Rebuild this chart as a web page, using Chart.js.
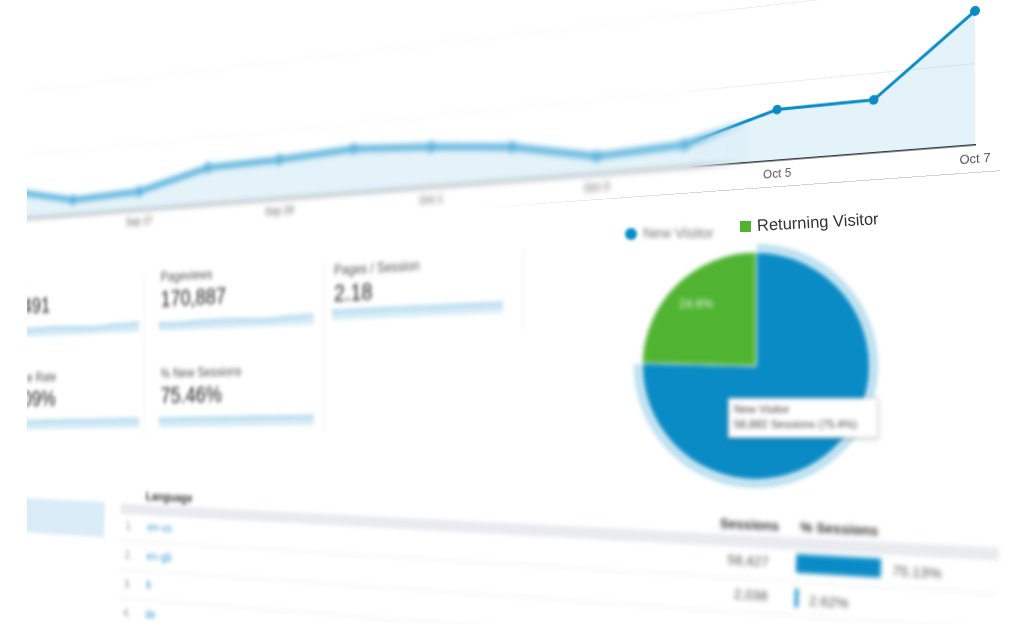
<!DOCTYPE html>
<html>
<head>
<meta charset="utf-8">
<script src="https://cdn.jsdelivr.net/npm/chart.js@4.4.1/dist/chart.umd.min.js"></script>
<style>
html,body{margin:0;padding:0;background:#fff;width:1024px;height:644px;overflow:hidden;font-family:"Liberation Sans",Arial,sans-serif;}
#frame{position:absolute;left:27px;top:0;width:997px;height:624px;overflow:hidden;background:#fff;}
#plane{position:absolute;left:-27px;top:0;width:1024px;height:644px;transform-origin:975px 481px;
  transform:matrix3d(1,0,0,-0.000232, 0,1,0,0, 0,0,1,0, 0,0,0,1);}
#flat{position:absolute;left:-27px;top:0;width:1024px;height:644px;}
.abs{position:absolute;}
#lineWrap{left:-297px;top:-25px;width:1310px;height:200px;}
#lineWrap > div{position:absolute;left:0;top:0;width:1310px;height:200px;}
#blurLayer{filter:blur(3px);-webkit-mask-image:linear-gradient(to right,#000 975px,transparent 1035px);mask-image:linear-gradient(to right,#000 975px,transparent 1035px);}
#sharpLayer{-webkit-mask-image:linear-gradient(to right,transparent 965px,#000 1025px);mask-image:linear-gradient(to right,transparent 965px,#000 1025px);}
#chartFoot{left:-297px;top:172px;width:1297px;height:1px;background:linear-gradient(to right,rgba(210,210,210,0) 0px,rgba(210,210,210,0) 700px,#d4d4d4 1000px);}
#cards{left:0;top:0;width:1024px;height:644px;filter:blur(2.6px);}
.card{position:absolute;width:238px;height:80px;}
.card .lbl{position:absolute;left:6px;top:-2px;font-size:16px;line-height:20px;color:#555;white-space:nowrap;}
.card .val{position:absolute;left:6px;top:19px;font-size:27px;line-height:32px;color:#222;white-space:nowrap;}
.card .spark{position:absolute;left:0;top:58px;width:232px;height:19px;}
.sep{position:absolute;width:2px;background:#f1f3f5;}
#table{left:-240px;top:501px;width:1500px;height:200px;transform-origin:0 0;transform:rotate(2deg);filter:blur(2.4px);}
#table .t{position:absolute;white-space:nowrap;font-size:15px;line-height:18px;}
#pieWrap{left:628px;top:238px;width:256px;height:256px;filter:blur(2px);}
#tip{left:728px;top:398px;width:138px;height:32px;background:#fff;border:1px solid #d6d6d6;box-shadow:0 1px 4px rgba(0,0,0,0.25);padding:3px 5px;font-size:11px;line-height:15px;color:#444;filter:blur(2.2px);}
</style>
</head>
<body>
<div id="frame">
  <div id="plane">
    <div id="lineWrap" class="abs">
      <div id="blurLayer"><canvas id="lineBlur"></canvas></div>
      <div id="sharpLayer"><canvas id="lineSharp"></canvas></div>
    </div>
    <div id="chartFoot" class="abs"></div>

    <div id="cards" class="abs">
      <div class="sep" style="left:-56px;top:222px;height:200px;"></div>
      <div class="sep" style="left:207px;top:222px;height:200px;"></div>
      <div class="sep" style="left:470px;top:222px;height:90px;"></div>
      <div class="card" style="left:-291px;top:222px;"><div class="lbl">Users</div><div class="val">57,491</div><div class="spark"><canvas id="spUsers"></canvas></div></div>
      <div class="card" style="left:-35px;top:222px;"><div class="lbl">Pageviews</div><div class="val">170,887</div><div class="spark"><canvas id="spPageviews"></canvas></div></div>
      <div class="card" style="left:216px;top:226px;"><div class="lbl">Pages / Session</div><div class="val">2.18</div><div class="spark" style="top:50px;"><canvas id="spPages"></canvas></div></div>
      <div class="card" style="left:-291px;top:341px;"><div class="lbl">Bounce Rate</div><div class="val">46.09%</div><div class="spark"><canvas id="spBounce"></canvas></div></div>
      <div class="card" style="left:-35px;top:341px;"><div class="lbl">% New Sessions</div><div class="val">75.46%</div><div class="spark"><canvas id="spNew"></canvas></div></div>
    </div>

    <div id="table" class="abs">
      <div class="abs" style="left:-30px;top:2px;width:155px;height:44px;background:#d9ecf7;"></div>
      <div class="abs" style="left:150px;top:3px;width:1090px;height:13px;background:#e9ebee;"></div>
      <div class="abs" style="left:150px;top:48px;width:1090px;height:2px;background:#f1f2f4;"></div>
      <div class="abs" style="left:150px;top:84px;width:1090px;height:2px;background:#f1f2f4;"></div>
      <div class="abs" style="left:150px;top:120px;width:1090px;height:2px;background:#f1f2f4;"></div>
      <div class="t" style="left:188px;top:-17px;font-weight:bold;color:#333;">Language</div>
      <div class="t" style="left:920px;top:-17px;width:90px;text-align:right;font-weight:bold;color:#333;">Sessions</div>
      <div class="t" style="left:1033px;top:-17px;font-weight:bold;color:#333;">% Sessions</div>
      <div class="t" style="left:158px;top:21px;color:#999;">1.</div>
      <div class="t" style="left:192px;top:21px;color:#3f9fd6;">en-us</div>
      <div class="t" style="left:158px;top:57px;color:#999;">2.</div>
      <div class="t" style="left:192px;top:57px;color:#3f9fd6;">en-gb</div>
      <div class="t" style="left:158px;top:93px;color:#999;">3.</div>
      <div class="t" style="left:192px;top:93px;color:#3f9fd6;">fr</div>
      <div class="t" style="left:158px;top:129px;color:#999;">4.</div>
      <div class="t" style="left:192px;top:129px;color:#3f9fd6;">de</div>
      <div class="t" style="left:920px;top:21px;width:80px;text-align:right;color:#555;">58,427</div>
      <div class="t" style="left:920px;top:57px;width:80px;text-align:right;color:#555;">2,038</div>
      <div class="abs" style="left:1030px;top:12px;width:210px;height:72px;"><canvas id="barShare"></canvas></div>
    </div>
  </div>

  <div id="flat">
    <div id="pieWrap" class="abs"><canvas id="pie"></canvas></div>
    <div id="tip" class="abs"><div>New Visitor</div><div>58,882 Sessions (75.4%)</div></div>
    <div class="abs" style="left:625px;top:228px;width:12px;height:12px;border-radius:50%;background:#058dc7;filter:blur(1.5px);"></div>
    <div class="abs" style="left:643px;top:225px;font-size:14px;color:#777;filter:blur(2.2px);white-space:nowrap;">New Visitor</div>
    <div class="abs" style="left:740px;top:221px;width:11px;height:11px;background:#50b432;filter:blur(0.5px);"></div>
    <div class="abs" style="left:757px;top:216px;font-size:16.5px;color:#333;white-space:nowrap;transform-origin:0 50%;transform:rotate(-3.2deg);">Returning Visitor</div>
  </div>
</div>

<script>
// ---- data ----
const dates = ['Sep 25','Sep 26','Sep 27','Sep 28','Sep 29','Sep 30','Oct 1','Oct 2','Oct 3','Oct 4','Oct 5','Oct 6','Oct 7'];
const sessions = [1160, 600, 710, 1385, 1445, 1600, 1420, 1170, 615, 755, 1625, 1655, 4085];
const sessionTicks = [0, 2500, 5000];

const visitorTypes = ['New Visitor', 'Returning Visitor'];
const visitorShare = [75.4, 24.6];

const sparkUsers      = [64, 58, 60, 68, 70, 72, 69, 64, 57, 59, 71, 72, 90];
const sparkPageviews  = [66, 60, 62, 70, 72, 74, 71, 66, 59, 61, 73, 74, 92];
const sparkPages      = [76, 75, 76, 77, 76, 77, 76, 75, 76, 76, 77, 76, 77];
const sparkBounce     = [74, 75, 74, 74, 75, 74, 75, 74, 74, 75, 74, 75, 74];
const sparkNew        = [75, 74, 75, 75, 74, 75, 74, 75, 75, 74, 75, 74, 75];

const languages   = ['en-us', 'en-gb'];
const langShare   = [75.13, 2.62];

// ---- line chart ----
const FONT = '"Liberation Sans", Arial, sans-serif';
function lineConfig(lineColor, lineWidth, pointR, axisColor){
  return {
    type:'line',
    data:{labels:dates, datasets:[{data:sessions, borderColor:lineColor, borderWidth:lineWidth,
      backgroundColor:'rgba(5,141,199,0.11)', fill:'origin', tension:0,
      pointRadius:pointR, pointBackgroundColor:lineColor, pointBorderWidth:0}]},
    options:{responsive:true, maintainAspectRatio:false, animation:false, events:[],
      layout:{padding:{top:6,right:38,left:0,bottom:0}},
      plugins:{legend:{display:false}, tooltip:{enabled:false}},
      scales:{
        x:{grid:{display:false, drawTicks:false}, border:{display:true, color:axisColor, width:1.5},
           ticks:{autoSkip:false, maxRotation:0, padding:7, color:'#555', font:{size:13, family:FONT},
                  callback:(v,i)=> (i%2===0 ? dates[i] : '')},
           afterFit:s=>{s.height=30;}},
        y:{min:0, max:5000, afterBuildTicks:s=>{s.ticks = sessionTicks.map(v=>({value:v}));},
           ticks:{display:false}, grid:{color:'#ececec', drawTicks:false}, border:{display:false},
           afterFit:s=>{s.width=0;}}
      }
    }
  };
}
new Chart(document.getElementById('lineBlur'), lineConfig('#5db4de', 7.5, 6.5, '#666'));
new Chart(document.getElementById('lineSharp'), lineConfig('#0a8bc6', 3.2, 5, '#333'));

// ---- sparklines ----
function spark(id, values){
  new Chart(document.getElementById(id), {
    type:'line',
    data:{labels:dates, datasets:[{data:values, borderColor:'#bfe0f1', borderWidth:6,
      backgroundColor:'#d8edf7', fill:'origin', pointRadius:0, tension:0.3}]},
    options:{responsive:true, maintainAspectRatio:false, animation:false, events:[],
      layout:{padding:{top:3}},
      plugins:{legend:{display:false}, tooltip:{enabled:false}},
      scales:{x:{display:false}, y:{display:false, min:0, max:100}}}
  });
}
spark('spUsers', sparkUsers);
spark('spPageviews', sparkPageviews);
spark('spPages', sparkPages);
spark('spBounce', sparkBounce);
spark('spNew', sparkNew);

// ---- table share bars ----
const barLabelPlugin = {id:'barLabels', afterDatasetsDraw(chart){
  const ctx = chart.ctx, meta = chart.getDatasetMeta(0);
  ctx.save(); ctx.fillStyle='#555'; ctx.font='15px '+FONT; ctx.textBaseline='middle';
  meta.data.forEach((bar,i)=>{ const p = bar.getProps(['x','y'], true);
    ctx.fillText(langShare[i].toFixed(2)+'%', p.x+12, p.y+3); });
  ctx.restore();
}};
new Chart(document.getElementById('barShare'), {
  type:'bar',
  data:{labels:languages, datasets:[{data:langShare, backgroundColor:'#0a8bc6', barThickness:19, borderWidth:0}]},
  options:{indexAxis:'y', responsive:true, maintainAspectRatio:false, animation:false, events:[],
    layout:{padding:{right:90,left:0,top:0,bottom:0}},
    plugins:{legend:{display:false}, tooltip:{enabled:false}},
    scales:{x:{display:false, min:0, max:100}, y:{display:false}}},
  plugins:[barLabelPlugin]
});

// ---- pie ----
const pieLabelPlugin = {id:'pieLabels', afterDatasetsDraw(chart){
  const ctx = chart.ctx, meta = chart.getDatasetMeta(1);
  ctx.save(); ctx.fillStyle='rgba(255,255,255,0.85)'; ctx.font='12px '+FONT; ctx.textAlign='center'; ctx.textBaseline='middle';
  meta.data.forEach((arc,i)=>{ const p = arc.getProps(['x','y','startAngle','endAngle','outerRadius'], true);
    const a = (p.startAngle+p.endAngle)/2, r = p.outerRadius*0.75;
    ctx.fillText(visitorShare[i].toFixed(1)+'%', p.x+Math.cos(a)*r, p.y+Math.sin(a)*r); });
  ctx.restore();
}};
new Chart(document.getElementById('pie'), {
  type:'pie',
  data:{labels:visitorTypes, datasets:[
    {data:visitorShare, backgroundColor:['rgba(5,141,199,0.28)','rgba(255,255,255,0)'], borderColor:'#fff', borderWidth:2, weight:0.075},
    {data:visitorShare, backgroundColor:['#0a8bc6','#50b432'], borderColor:'#fff', borderWidth:1, weight:1}
  ]},
  options:{responsive:true, maintainAspectRatio:false, animation:false, events:[],
    layout:{padding:4},
    plugins:{legend:{display:false}, tooltip:{enabled:false}}},
  plugins:[pieLabelPlugin]
});
</script>
</body>
</html>
